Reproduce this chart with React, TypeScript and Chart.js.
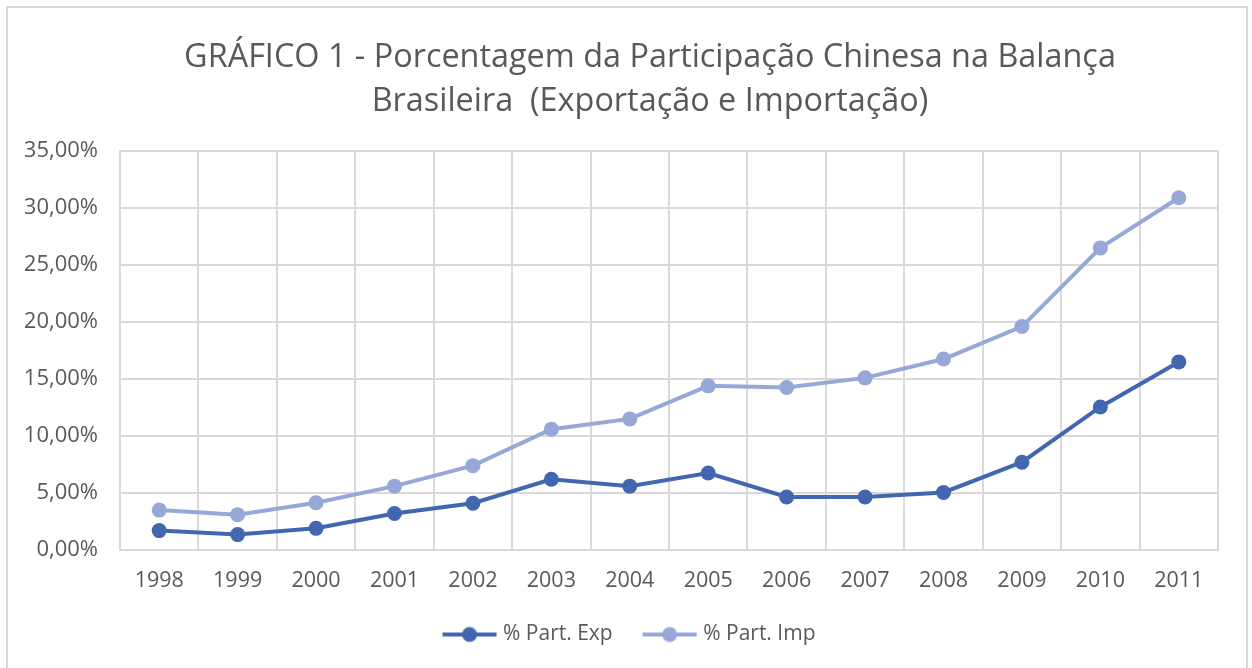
import React, { useEffect, useRef } from "react";
import { Chart, registerables } from "chart.js";

Chart.register(...registerables);

const titleLines = [
  "GRÁFICO 1 - Porcentagem da Participação Chinesa na Balança",
  "Brasileira  (Exportação e Importação)",
];
const years = ["1998", "1999", "2000", "2001", "2002", "2003", "2004", "2005", "2006", "2007", "2008", "2009", "2010", "2011"];
const expLabel = "% Part. Exp";
const impLabel = "% Part. Imp";
const expValues = [1.7, 1.35, 1.9, 3.2, 4.1, 6.2, 5.6, 6.75, 4.65, 4.65, 5.05, 7.7, 12.55, 16.5];
const impValues = [3.5, 3.1, 4.15, 5.6, 7.4, 10.6, 11.5, 14.4, 14.25, 15.1, 16.75, 19.6, 26.5, 30.9];
const yMin = 0;
const yMax = 35;
const yStep = 5;

const EXP_COLOR = "#4267B0";
const IMP_COLOR = "#95A8D8";
const TEXT_COLOR = "#595959";
const GRID_COLOR = "#D9D9D9";
const FONT = "'Open Sans', 'DejaVu Sans', sans-serif";

function legendIcon(color: string): HTMLCanvasElement {
  const c = document.createElement("canvas");
  c.width = 56;
  c.height = 18;
  const ctx = c.getContext("2d")!;
  ctx.strokeStyle = color;
  ctx.lineWidth = 4;
  ctx.beginPath();
  ctx.moveTo(1, 9);
  ctx.lineTo(55, 9);
  ctx.stroke();
  ctx.fillStyle = color;
  ctx.beginPath();
  ctx.arc(28, 9, 7.5, 0, Math.PI * 2);
  ctx.fill();
  return c;
}

const titlePlugin = {
  id: "customTitle",
  afterDraw(chart: any) {
    const ctx = chart.ctx;
    ctx.save();
    ctx.fillStyle = TEXT_COLOR;
    ctx.font = `32.4px ${FONT}`;
    ctx.textAlign = "center";
    ctx.textBaseline = "middle";
    const cx = 650;
    titleLines.forEach((line, i) => {
      ctx.fillText(line, cx, 58 + i * 44);
    });
    ctx.restore();
  },
};

export default function App() {
  const canvasRef = useRef<HTMLCanvasElement | null>(null);

  useEffect(() => {
    if (!canvasRef.current) return;
    const icons = [legendIcon(EXP_COLOR), legendIcon(IMP_COLOR)];
    const chart = new Chart(canvasRef.current, {
      type: "line",
      data: {
        labels: years,
        datasets: [
          {
            label: expLabel,
            data: expValues,
            borderColor: EXP_COLOR,
            backgroundColor: EXP_COLOR,
            borderWidth: 4,
            pointRadius: 7.5,
            pointBorderWidth: 0,
            tension: 0,
          },
          {
            label: impLabel,
            data: impValues,
            borderColor: IMP_COLOR,
            backgroundColor: IMP_COLOR,
            borderWidth: 4,
            pointRadius: 7.5,
            pointBorderWidth: 0,
            tension: 0,
          },
        ],
      },
      plugins: [titlePlugin],
      options: {
        animation: false,
        responsive: true,
        maintainAspectRatio: false,
        layout: { padding: { top: 151, left: 25, right: 15, bottom: 13 } },
        plugins: {
          title: { display: false },
          legend: {
            position: "bottom",
            labels: {
              color: TEXT_COLOR,
              font: { family: FONT, size: 21 },
              usePointStyle: true,
              pointStyleWidth: 46,
              padding: 34,
              generateLabels: (ch: any) => {
                const items = (Chart.defaults.plugins.legend.labels.generateLabels as any)(ch);
                return items.map((it: any, i: number) => ({ ...it, pointStyle: icons[i] }));
              },
            },
          },
          tooltip: { enabled: false },
        },
        scales: {
          x: {
            offset: true,
            afterFit: (s: any) => {
              s.height = 40;
            },
            grid: { offset: true, color: GRID_COLOR, lineWidth: 2, drawTicks: false },
            border: { color: GRID_COLOR, width: 2 },
            ticks: { color: TEXT_COLOR, font: { family: FONT, size: 21.5 }, padding: 18 },
          },
          y: {
            min: yMin,
            max: yMax,
            afterFit: (s: any) => {
              s.width = 120 - 25;
            },
            grid: { color: GRID_COLOR, lineWidth: 2, drawTicks: false },
            border: { color: GRID_COLOR, width: 2 },
            ticks: {
              stepSize: yStep,
              color: TEXT_COLOR,
              font: { family: FONT, size: 22 },
              padding: 22,
              callback: (v: any) => Number(v).toFixed(2).replace(".", ",") + "%",
            },
          },
          ySpacer: {
            position: "right",
            display: true,
            min: yMin,
            max: yMax,
            afterFit: (s: any) => {
              s.width = 19;
            },
            grid: { display: false, drawOnChartArea: false },
            border: { display: false },
            ticks: { display: false },
          },
        },
      },
    });
    return () => chart.destroy();
  }, []);

  return (
    <div style={{ position: "absolute", left: 0, top: 0, width: 1252, height: 668, overflow: "hidden", background: "#fff" }}>
      <div
        style={{
          position: "absolute",
          left: 6,
          top: 6,
          width: 1242,
          height: 700,
          border: `2px solid ${GRID_COLOR}`,
          boxSizing: "border-box",
        }}
      />
      <canvas ref={canvasRef} style={{ position: "absolute", left: 0, top: 0, width: 1252, height: 668 }} />
    </div>
  );
}
